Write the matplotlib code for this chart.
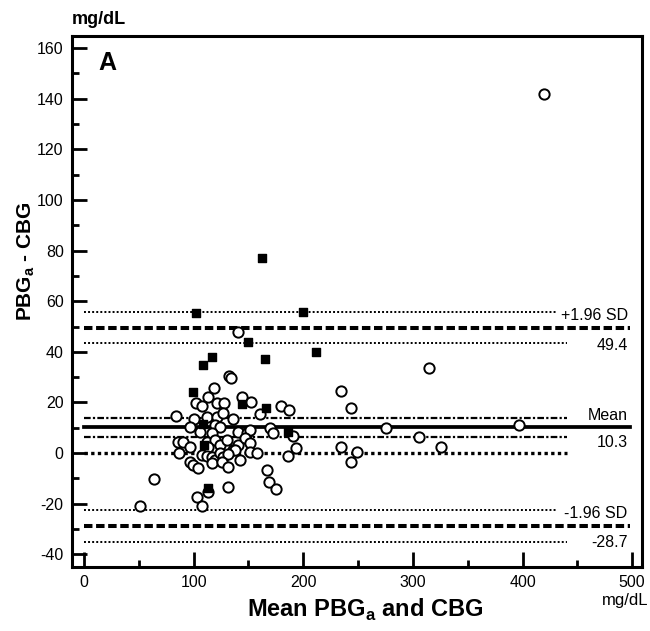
import numpy as np
import matplotlib
matplotlib.use("Agg")
import matplotlib.pyplot as plt

plt.rcParams['font.family'] = ['Liberation Sans', 'DejaVu Sans']
plt.rcParams['axes.unicode_minus'] = False

# open circles (mean, difference)
circ_x = [420, 140.5, 132, 134, 315, 234.5, 243.6, 118.6, 113, 144, 152.5, 102, 107.6,
          121.5, 127.5, 180, 187, 84, 100.5, 112.5, 121, 127, 136, 160.5, 119.5, 124,
          96.7, 106, 116.6, 140.5, 148.7, 151.5, 170, 172, 191, 275.5, 305.6, 397, 86,
          90, 112, 119.7, 124, 130.5, 140.5, 147, 151.5, 96.7, 113, 136, 138, 87, 107.7,
          112, 116.8, 119.7, 124, 127, 131.4, 142, 151.5, 157.6, 186, 193.4, 234.5, 249,
          243.6, 325.7, 96.7, 99.7, 104, 116.8, 126, 131, 167, 169, 175, 63.5, 131, 113,
          103, 108, 51]
circ_y = [142, 48, 30.5, 29.8, 33.6, 24.6, 17.8, 25.7, 22.3, 22, 20.2, 19.7, 18.8,
          19.7, 19.7, 18.6, 17, 14.8, 13.6, 14.2, 14.3, 15.8, 13.6, 15.5, 11, 10.3,
          10.3, 8.3, 7.9, 8.3, 7.9, 9, 10, 7.8, 6.7, 10, 6.4, 11, 4.3,
          4.5, 4.3, 5.1, 3.2, 5.1, 3.2, 5.9, 4, 2.4, 2.4, 1.2, 1.2, 0.2, -0.8,
          -1, -1.6, -2.8, 0, -1.6, -0.4, -2.8, 0.4, 0, -1.2, 2, 2.4, 0.4,
          -3.5, 2.4, -3.6, -4.6, -6, -4, -3.5, -5.5, -6.7, -11.3, -14.3, -10.2, -13.4, -15.5,
          -17.4, -21, -21]

# filled squares
sq_x = [102, 150, 108.6, 117, 99.6, 144, 108.8, 109.5, 113, 200, 165, 212, 166, 186, 162]
sq_y = [55.3, 44, 35, 38, 24, 19.5, 11.5, 3.2, -13.8, 55.6, 37, 40, 18, 8.3, 77]

mean_diff = 10.3
mean_ci = [6.5, 13.8]
upper_loa = 49.4
upper_ci = [43.4, 55.6]
lower_loa = -28.7
lower_ci = [-35.2, -22.5]

fig = plt.figure(figsize=(6.5, 6.31), dpi=100)
ax = fig.add_axes([72/650, 1-567/631, 570/650, 531/631])

# reference lines
ax.plot([0, 498], [upper_loa]*2, color='black', lw=2.9, dashes=(2.1, 0.9))
ax.plot([0, 498], [lower_loa]*2, color='black', lw=2.9, dashes=(2.1, 0.9))
ax.plot([0, 498], [mean_diff]*2, color='black', lw=2.7)
ax.plot([0, 431], [upper_ci[1]]*2, color='black', lw=1.4, dashes=(1, 1.1))
ax.plot([0, 441], [upper_ci[0]]*2, color='black', lw=1.4, dashes=(1, 1.1))
ax.plot([0, 431], [lower_ci[1]]*2, color='black', lw=1.4, dashes=(1, 1.1))
ax.plot([0, 441], [lower_ci[0]]*2, color='black', lw=1.4, dashes=(1, 1.1))
for v in mean_ci:
    ax.plot([0, 441], [v, v], color='black', lw=1.6, dashes=(3, 1, 1, 1))
ax.plot([0, 441], [0, 0], color='black', lw=2.4, dashes=(1, 1))

ax.scatter(circ_x, circ_y, s=55, facecolor='white', edgecolor='black', linewidths=1.4, zorder=3)
ax.scatter(sq_x, sq_y, s=26, marker='s', color='black', zorder=4)

# labels on the right
kw = dict(ha='right', va='center', fontsize=11.5)
ax.text(496, 54.5, '+1.96 SD', **kw)
ax.text(496, 42.7, '49.4', **kw)
ax.text(496, 15, 'Mean', **kw)
ax.text(496, 4, '10.3', **kw)
ax.text(496, -23.7, '-1.96 SD', **kw)
ax.text(496, -35.2, '-28.7', **kw)

ax.set_xlim(-11, 509)
ax.set_ylim(-45, 164.8)
ax.set_xticks(range(0, 501, 100))
ax.set_xticks(range(50, 500, 100), minor=True)
ax.set_yticks(range(-40, 161, 20))
ax.set_yticks(range(-30, 161, 20), minor=True)
ax.tick_params(which='both', direction='in', width=2, labelsize=11.5, pad=6)
ax.tick_params(which='major', length=11)
ax.tick_params(which='minor', length=5)
ax.tick_params(top=False, right=False)
for s in ax.spines.values():
    s.set_linewidth(2.2)

ax.text((107-72)/570, 1-27/531, 'A', transform=ax.transAxes, ha='center', va='center',
        fontsize=18, fontweight='bold')

fig.text(99/650, 1-20/631, 'mg/dL', ha='center', va='center', fontsize=13, fontweight='bold')
fig.text(648/650, 1-600/631, 'mg/dL', ha='right', va='center', fontsize=12)
fig.text(365/650, 1-610/631, r'Mean PBG$_\mathregular{a}$ and CBG', ha='center', va='center',
         fontsize=17, fontweight='bold')
fig.text(26/650, 1-261/631, r'PBG$_\mathregular{a}$ - CBG', ha='center', va='center',
         rotation=90, fontsize=15, fontweight='bold')

fig.savefig('out.png', dpi=100)
